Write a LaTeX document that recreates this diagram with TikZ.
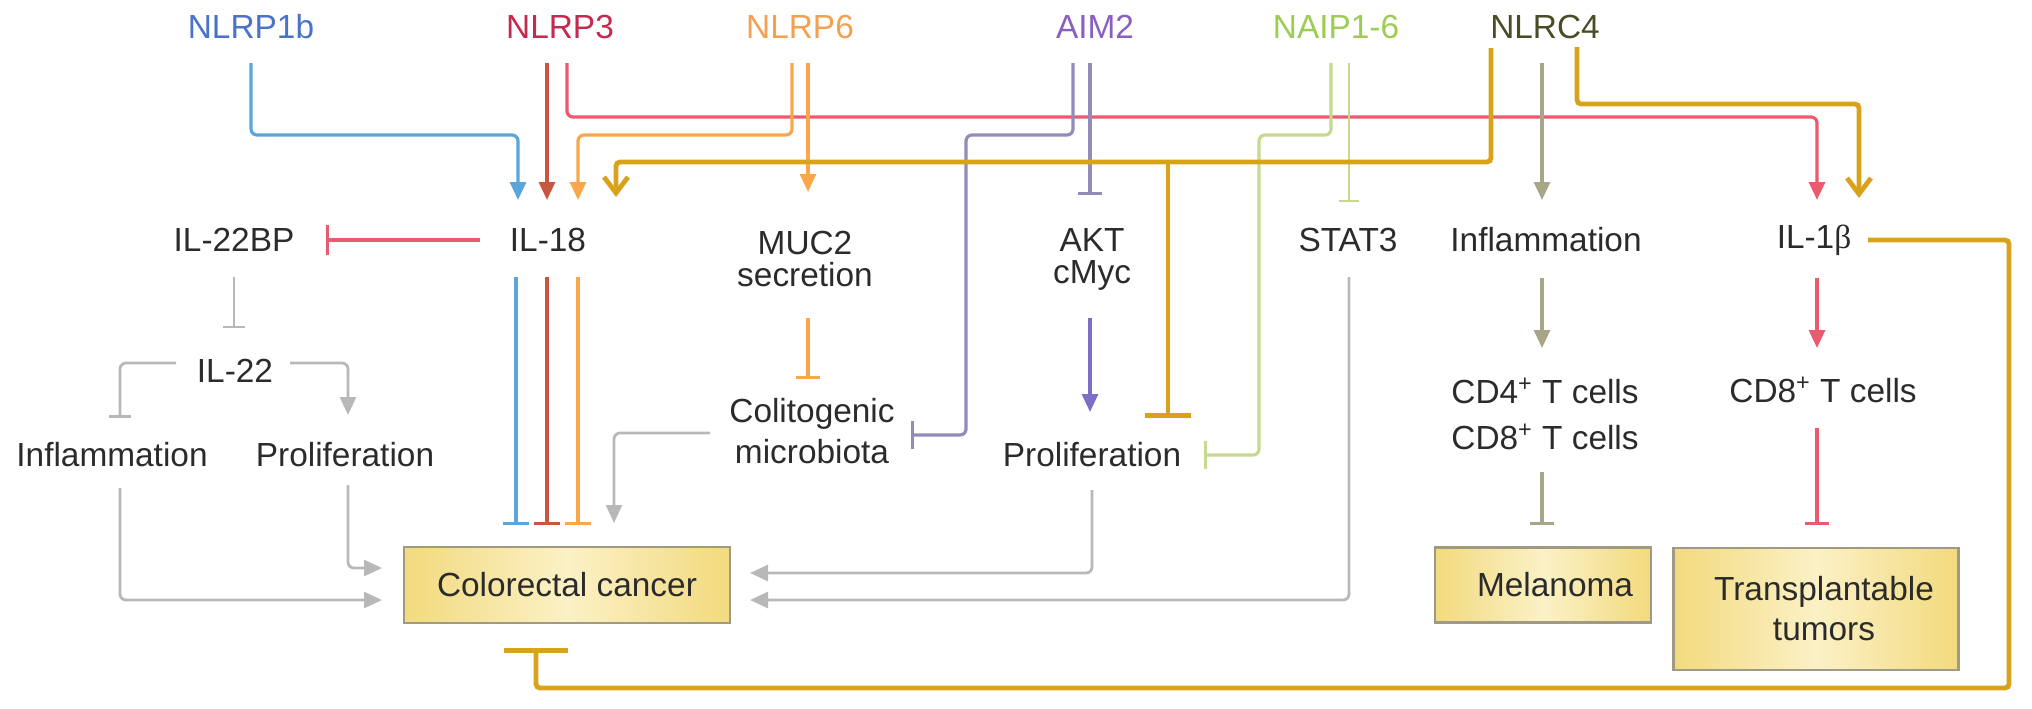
\documentclass[tikz,border=0pt]{standalone}
\usepackage{fontspec}
\setmainfont{Liberation Sans}
\newfontfamily\serifb{Liberation Serif}
\usetikzlibrary{arrows.meta}
\definecolor{txt}{HTML}{2B2B2B}
\definecolor{tBlue}{HTML}{4A72C8}
\definecolor{tRed}{HTML}{C42A4F}
\definecolor{tOrange}{HTML}{F5A050}
\definecolor{tPurple}{HTML}{8A5FC0}
\definecolor{tGreen}{HTML}{9CCC52}
\definecolor{tOlive}{HTML}{4B4B26}
\definecolor{lBlue}{HTML}{5AA5DC}
\definecolor{lRedA}{HTML}{C9573F}
\definecolor{lRedB}{HTML}{EA5B6F}
\definecolor{lOrange}{HTML}{F8A84A}
\definecolor{lPurple}{HTML}{928CB8}
\definecolor{lPurpleD}{HTML}{7D6FC8}
\definecolor{lGreen}{HTML}{C5DA8F}
\definecolor{lOlive}{HTML}{A8A688}
\definecolor{lGold}{HTML}{D9A21B}
\definecolor{lGray}{HTML}{B8B8B8}
\definecolor{boxA}{HTML}{F2DA7E}
\definecolor{boxB}{HTML}{FBF1C6}
\definecolor{boxLine}{HTML}{A09A84}
\begin{document}
\begin{tikzpicture}[x=0.5pt,y=-0.5pt,
  font=\fontsize{16.7}{20}\selectfont,
  lbl/.style={inner sep=0pt,text=txt,align=center},
  ln/.style={line width=1.6pt,rounded corners=3pt},
  thinln/.style={line width=1pt,rounded corners=3pt},
  gln/.style={line width=1.4pt,draw=lGray,rounded corners=3pt},
  gold/.style={line width=2.4pt,draw=lGold,rounded corners=2pt},
  tri/.style={-{Triangle[length=9pt,width=8pt]}},
  vee/.style={-{Straight Barb[length=8pt,width=12pt,line width=2.4pt]}},
  inh/.style={-{Bar[width=#1]}},
  inh/.default=12pt,
  cancer/.style={draw=boxLine,line width=1.3pt,left color=boxA,right color=boxA,middle color=boxB,inner sep=0pt,text=txt,align=center}
]
\useasboundingbox (0,0) rectangle (2032,708);

% ---- top labels ----
\node[lbl,text=tBlue]   (nlrp1b) at (251,27)  {NLRP1b};
\node[lbl,text=tRed]    (nlrp3)  at (560,27)  {NLRP3};
\node[lbl,text=tOrange] (nlrp6)  at (800,27)  {NLRP6};
\node[lbl,text=tPurple] (aim2)   at (1095,27) {AIM2};
\node[lbl,text=tGreen]  (naip)   at (1336,27) {NAIP1-6};
\node[lbl,text=tOlive]  (nlrc4)  at (1545,27) {NLRC4};

% ---- middle labels ----
\node[lbl] (il22bp) at (234,240) {IL-22BP};
\node[lbl] (il18)   at (548,240) {IL-18};
\node[lbl,font=\fontsize{16.7}{16}\selectfont] (muc2) at (805,259) {MUC2\\secretion};
\node[lbl,font=\fontsize{16.7}{16}\selectfont] (akt)  at (1092,259) {AKT\\cMyc};
\node[lbl] (stat3)  at (1348,240) {STAT3};
\node[lbl] (infl2)  at (1546,240) {Inflammation};
\node[lbl] (il1b)   at (1814,240) {IL-1{\serifb β}};
\node[lbl] (il22)   at (235,371) {IL-22};
\node[lbl] (infl1)  at (112,455) {Inflammation};
\node[lbl] (prolif1) at (345,455) {Proliferation};
\node[lbl,font=\fontsize{16.7}{20.5}\selectfont] (colito) at (812,431) {Colitogenic\\microbiota};
\node[lbl] (prolif2) at (1092,455) {Proliferation};
\node[lbl,font=\fontsize{16.7}{23}\selectfont] (cd48) at (1545,414) {CD4\textsuperscript{+} T cells\\CD8\textsuperscript{+} T cells};
\node[lbl] (cd8) at (1823,390) {CD8\textsuperscript{+} T cells};

% ---- boxes ----
\node[cancer,minimum width=163pt,minimum height=38pt] (crc) at (567,585) {Colorectal cancer};
\node[cancer,minimum width=108pt,minimum height=37.5pt] (mel) at (1543,585) {\hspace*{12pt}Melanoma};
\node[cancer,minimum width=142.5pt,minimum height=61pt] (trans) at (1816,609) {\hspace*{8pt}Transplantable\\\hspace*{8pt}tumors};

% ---- ports (free ends of connectors) ----
\coordinate (p1b) at (251,63);   \coordinate (e1b) at (518,200);
\coordinate (p3a) at (547,63);   \coordinate (e3a) at (547,200);
\coordinate (p3b) at (567,63);   \coordinate (e3b) at (1817,200);
\coordinate (p6a) at (792,63);   \coordinate (e6a) at (578,200);
\coordinate (p6b) at (808,63);   \coordinate (e6b) at (808,192);
\coordinate (pAa) at (1073,63);  \coordinate (eAa) at (911,435);
\coordinate (pAb) at (1090,63);  \coordinate (eAb) at (1090,195);
\coordinate (pNa) at (1331,63);  \coordinate (eNa) at (1204,455);
\coordinate (pNb) at (1349,63);  \coordinate (eNb) at (1349,202);
\coordinate (pCa) at (1491,48);  \coordinate (eCa) at (616,197);
\coordinate (pCm) at (1542,63);  \coordinate (eCm) at (1542,200);
\coordinate (pCb) at (1577,47);  \coordinate (eCb) at (1859,198);
\coordinate (jG)  at (1168,162); \coordinate (eG)  at (1168,418);

\coordinate (s18l) at (480,240); \coordinate (e22bp) at (326,240);
\coordinate (s22bp) at (234,277); \coordinate (e22) at (234,328);
\coordinate (s22l) at (176,363); \coordinate (ei1) at (120,418);
\coordinate (s22r) at (290,363); \coordinate (ep1) at (348,415);
\coordinate (s18a) at (516,277); \coordinate (c18a) at (516,525);
\coordinate (s18b) at (547,277); \coordinate (c18b) at (547,525);
\coordinate (s18c) at (578,277); \coordinate (c18c) at (578,525);
\coordinate (scol) at (710,433); \coordinate (ccol) at (614,523);
\coordinate (smuc) at (808,318); \coordinate (ecol) at (808,379);
\coordinate (sakt) at (1090,318); \coordinate (ep2) at (1090,412);
\coordinate (si1)  at (120,488); \coordinate (ci1) at (382,600);
\coordinate (sp1)  at (348,485); \coordinate (cp1) at (382,568);
\coordinate (sp2)  at (1092,490); \coordinate (cp2) at (750,573);
\coordinate (sst)  at (1349,277); \coordinate (cst) at (750,600);
\coordinate (si2)  at (1542,278); \coordinate (ecd) at (1542,348);
\coordinate (sil1) at (1817,278); \coordinate (ecd8) at (1817,348);
\coordinate (scd)  at (1542,472); \coordinate (emel) at (1542,525);
\coordinate (scd8) at (1817,428); \coordinate (etr) at (1817,525);
\coordinate (sil1r) at (1868,240); \coordinate (ccrc) at (536,648);

% ---- connectors from the inflammasomes ----
\draw[ln,draw=lRedB,tri] (p3b) |- (1817,117) -- (e3b);
\draw[ln,draw=lBlue,tri] (p1b) -- ++(0,72) -| (e1b);
\draw[ln,draw=lRedA,tri] (p3a) -- (e3a);
\draw[ln,draw=lOrange,tri] (p6a) -- ++(0,72) -| (e6a);
\draw[ln,draw=lOrange,tri] (p6b) -- (e6b);
\draw[ln,draw=lPurple,inh=14pt] (pAa) -- ++(0,72) -| (966,300) |- (eAa);
\draw[ln,draw=lPurple,inh=12pt] (pAb) -- (eAb);
\draw[ln,draw=lGreen,inh=14pt] (pNa) -- ++(0,72) -| (1259,300) |- (eNa);
\draw[thinln,draw=lGreen,inh=10pt] (pNb) -- (eNb);
\draw[ln,draw=lOlive,tri] (pCm) -- (eCm);
\draw[gold,vee] (pCa) |- (800,162) -| (eCa);
\draw[gold,-{Bar[width=23pt]}] (jG) -- (eG);
\draw[gold,vee] (pCb) -- ++(0,57) -| (eCb);

% ---- IL-18 / IL-22 branch ----
\draw[ln,draw=lRedB,inh=15pt] (s18l) -- (e22bp);
\draw[thinln,draw=lGray,inh=11pt] (s22bp) -- (e22);
\draw[gln,inh=11pt] (s22l) -| (ei1);
\draw[gln,tri] (s22r) -| (ep1);
\draw[ln,draw=lBlue,inh=13pt] (s18a) -- (c18a);
\draw[ln,draw=lRedA,inh=13pt] (s18b) -- (c18b);
\draw[ln,draw=lOrange,inh=13pt] (s18c) -- (c18c);
\draw[gln,tri] (si1) |- (ci1);
\draw[gln,tri] (sp1) |- (cp1);

% ---- middle column ----
\draw[gln,tri] (scol) -| (ccol);
\draw[ln,draw=lOrange,inh=12pt] (smuc) -- (ecol);
\draw[ln,draw=lPurpleD,tri] (sakt) -- (ep2);
\draw[gln,tri] (sp2) |- (cp2);
\draw[gln,tri] (sst) |- (cst);

% ---- right columns ----
\draw[ln,draw=lOlive,tri] (si2) -- (ecd);
\draw[ln,draw=lRedB,tri] (sil1) -- (ecd8);
\draw[ln,draw=lOlive,inh=12pt] (scd) -- (emel);
\draw[ln,draw=lRedB,inh=12pt] (scd8) -- (etr);
\draw[gold,-{Bar[width=32pt]}] (sil1r) -| (2009,688) -| (ccrc);
\end{tikzpicture}
\end{document}
